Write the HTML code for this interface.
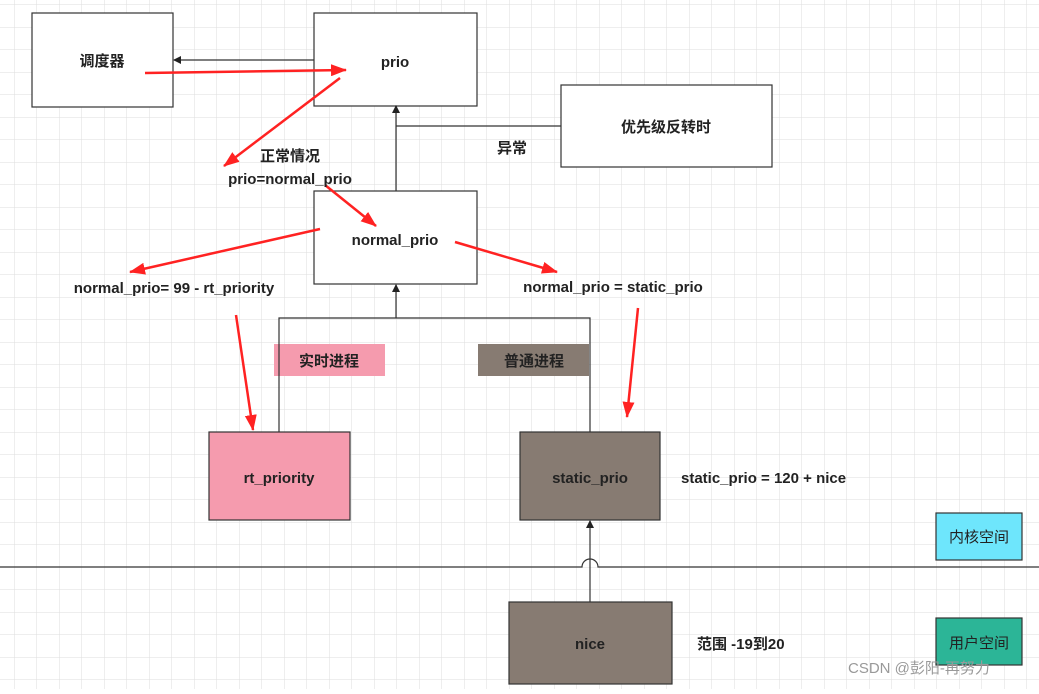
<!DOCTYPE html>
<html><head><meta charset="utf-8"><style>
html,body{margin:0;padding:0;background:#fff}
svg text{font-family:"Liberation Sans","Noto Sans CJK SC",sans-serif;font-weight:bold;font-size:15px;fill:#222}
</style></head><body>
<svg width="1039" height="689" xmlns="http://www.w3.org/2000/svg">
<defs>
<pattern id="g" x="-8" y="5" width="22.5" height="22.5" patternUnits="userSpaceOnUse">
<path d="M22.5 0V22.5M0 22.5H22.5" stroke="#dedede" stroke-width="1" fill="none"/>
</pattern>
<marker id="bk" markerWidth="8" markerHeight="8" refX="7" refY="4" orient="auto" markerUnits="userSpaceOnUse"><path d="M0,0L8,4L0,8z" fill="#222"/></marker>
<marker id="rd" markerWidth="16" markerHeight="12" refX="15" refY="6" orient="auto" markerUnits="userSpaceOnUse"><path d="M0,0L16,6L0,12z" fill="#f22"/></marker>
</defs>
<rect width="1039" height="689" fill="url(#g)"/>
<g stroke="#333" stroke-width="1.2">
<rect x="32" y="13" width="141" height="94" fill="#fff"/>
<rect x="314" y="13" width="163" height="93" fill="#fff"/>
<rect x="561" y="85" width="211" height="82" fill="#fff"/>
<rect x="314" y="191" width="163" height="93" fill="#fff"/>
<rect x="209" y="432" width="141" height="88" fill="#f59bae"/>
<rect x="520" y="432" width="140" height="88" fill="#877b72"/>
<rect x="509" y="602" width="163" height="82" fill="#877b72"/>
<rect x="936" y="513" width="86" height="47" fill="#6ee6fc"/>
<rect x="936" y="618" width="86" height="47" fill="#2cb597"/>
</g>
<rect x="274" y="344" width="111" height="32" fill="#f59bae"/>
<rect x="478" y="344" width="111" height="32" fill="#877b72"/>
<g stroke="#333" stroke-width="1.2" fill="none">
<path d="M314 60H174" marker-end="url(#bk)"/>
<path d="M396 191V106" marker-end="url(#bk)"/>
<path d="M561 126H396"/>
<path d="M279 432V318H590V432"/>
<path d="M396 318V285" marker-end="url(#bk)"/>
<path d="M0 567H582A8 8 0 0 1 598 567H1039"/>
<path d="M590 602V521" marker-end="url(#bk)"/>
</g>
<g stroke="#f22" stroke-width="2.5" fill="none">
<path d="M145 73L346 70" marker-end="url(#rd)"/>
<path d="M340 78L224 166" marker-end="url(#rd)"/>
<path d="M325 185L376 226" marker-end="url(#rd)"/>
<path d="M320 229L130 272" marker-end="url(#rd)"/>
<path d="M455 242L557 272" marker-end="url(#rd)"/>
<path d="M236 315L253 430" marker-end="url(#rd)"/>
<path d="M638 308L627 417" marker-end="url(#rd)"/>
</g>
<text x="102" y="66" text-anchor="middle">调度器</text>
<text x="395" y="67" text-anchor="middle">prio</text>
<text x="666" y="132" text-anchor="middle">优先级反转时</text>
<text x="497" y="153">异常</text>
<text x="290" y="161" text-anchor="middle">正常情况</text>
<text x="290" y="184" text-anchor="middle">prio=normal_prio</text>
<text x="395" y="245" text-anchor="middle">normal_prio</text>
<text x="174" y="293" text-anchor="middle">normal_prio= 99 - rt_priority</text>
<text x="613" y="292" text-anchor="middle">normal_prio = static_prio</text>
<text x="329" y="366" text-anchor="middle">实时进程</text>
<text x="534" y="366" text-anchor="middle">普通进程</text>
<text x="279" y="483" text-anchor="middle">rt_priority</text>
<text x="590" y="483" text-anchor="middle">static_prio</text>
<text x="681" y="483">static_prio = 120 + nice</text>
<text x="590" y="649" text-anchor="middle">nice</text>
<text x="697" y="649">范围 -19到20</text>
<text x="979" y="542" text-anchor="middle" style="font-weight:normal">内核空间</text>
<text x="979" y="648" text-anchor="middle" style="font-weight:normal">用户空间</text>
<text x="848" y="673" style="font-weight:normal;fill:#999;font-size:15px">CSDN @彭阳-再努力</text>
</svg>
</body></html>
